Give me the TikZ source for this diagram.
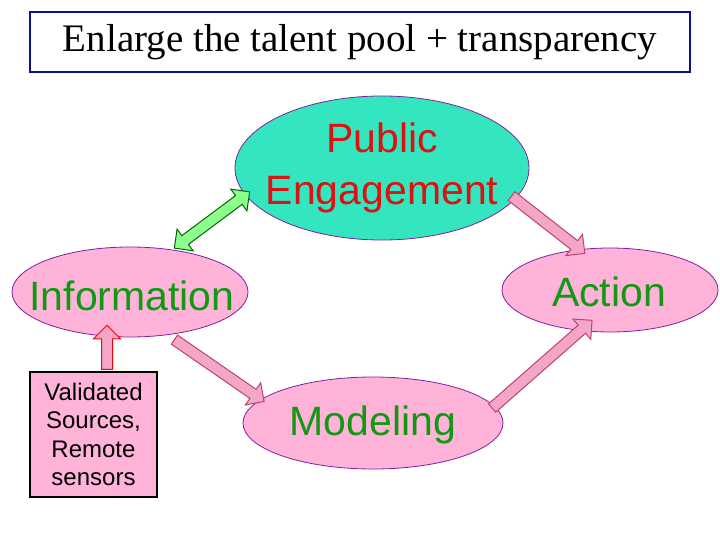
\documentclass[tikz,border=0pt]{standalone}
\usepackage{fontspec}
\setmainfont{Liberation Serif}
\newfontfamily\arial{Liberation Sans}
\usetikzlibrary{shapes.arrows,shapes.geometric}
\definecolor{pinkf}{HTML}{FFB3D9}
\definecolor{tealf}{HTML}{33E6C0}
\definecolor{purp}{HTML}{8020A0}
\definecolor{gtxt}{HTML}{119911}
\definecolor{rtxt}{HTML}{DD1111}
\definecolor{navy}{HTML}{10108A}
\definecolor{pinkarrow}{HTML}{F4A6C8}
\definecolor{pinkedge}{HTML}{C04070}
\tikzset{
 ell/.style={ellipse, draw=purp, line width=0.8pt, fill=pinkf, inner sep=0pt},
 big/.style={font=\arial\fontsize{41}{48}\selectfont, text=gtxt, inner sep=0pt},
 blk/.style={single arrow, inner xsep=0pt, inner ysep=5pt, minimum width=26pt, single arrow head extend=8pt, line width=1pt, draw=pinkedge, fill=pinkarrow},
}
\begin{document}
\begin{tikzpicture}[x=1pt,y=-1pt]
\useasboundingbox (0,0) rectangle (720,540);
\node[draw=navy, line width=1.2pt, minimum width=660pt, minimum height=60pt, font=\fontsize{39}{42}\selectfont] (title) at (360,42) {Enlarge the talent pool + transparency};
\node[ell, fill=tealf, minimum width=294pt, minimum height=144pt] (pe) at (382,168) {};
\node[big, text=rtxt, align=center, font=\arial\fontsize{41}{52}\selectfont] (pet) at (pe.center) {Public\\Engagement};
\node[ell, minimum width=236pt, minimum height=90pt] (info) at (130,292) {};
\node[big] (infot) at (132,296) {Information};
\node[ell, minimum width=216pt, minimum height=84pt] (act) at (610,290) {};
\node[big] (actt) at (609,292) {Action};
\node[ell, minimum width=260pt, minimum height=92pt] (mod) at (373,423) {};
\node[big] (modt) at (373,425) {Modeling};
\node[draw=black, line width=1.5pt, fill=pinkf, minimum width=127pt, minimum height=125pt, align=center, font=\arial\fontsize{24}{28.5}\selectfont] (src) at (93.5,434.5) {Validated\\Sources,\\Remote\\sensors};
\node[double arrow, inner xsep=0pt, inner ysep=5pt, minimum width=26pt, double arrow head extend=8pt, line width=1pt, draw=green!40!black, fill=green!45, minimum height=94pt, rotate=36.7] (a1) at (212,220) {};
\node[blk, minimum height=93pt, rotate=-38] (a2) at (546,223) {};
\node[blk, draw=red, minimum height=44pt, rotate=90] (a3) at (107,350) {};
\node[blk, minimum height=109pt, rotate=-34.6] (a4) at (217,369) {};
\node[blk, minimum height=133pt, rotate=41.3] (a5) at (540,366) {};
\end{tikzpicture}
\end{document}
